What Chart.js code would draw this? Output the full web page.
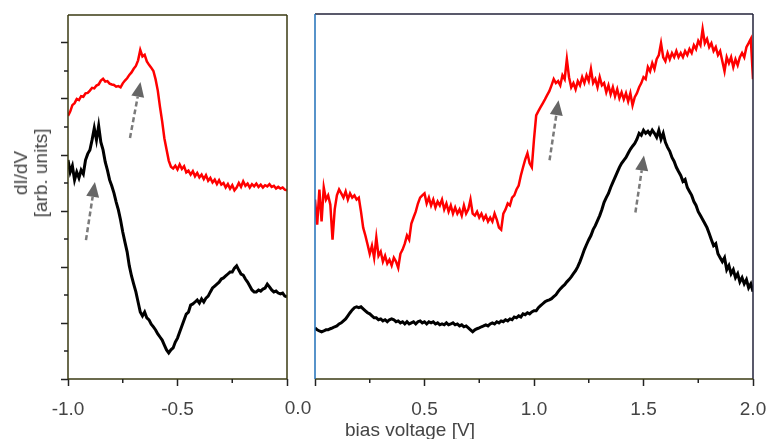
<!DOCTYPE html>
<html>
<head>
<meta charset="utf-8">
<script src="https://cdn.jsdelivr.net/npm/chart.js@4.4.1/dist/chart.umd.min.js"></script>
<style>
    html, body { margin: 0; padding: 0; background: #fff; }
    #wrap { position: relative; width: 769px; height: 439px; overflow: hidden; font-family: "Liberation Sans", Arial, sans-serif; color: #444; }
    .panel { position: absolute; top: 0; height: 439px; }
    #leftBox { left: 0; width: 300px; }
    #rightBox { left: 300px; width: 469px; }
    .lbl { position: absolute; white-space: nowrap; font-size: 19px; line-height: 20px; }
    #ytitle { left: 31px; top: 173px; transform: translate(-50%, -50%) rotate(-90deg); text-align: center; }
    #xtitle { left: 410px; top: 420px; transform: translateX(-50%); }
    #zero { left: 298px; top: 398px; transform: translateX(-50%); }
</style>
</head>
<body>
<div id="wrap">
    <div class="panel" id="leftBox"><canvas id="leftChart"></canvas></div>
    <div class="panel" id="rightBox"><canvas id="rightChart"></canvas></div>
    <div class="lbl" id="ytitle">dI/dV<br>[arb. units]</div>
    <div class="lbl" id="xtitle">bias voltage [V]</div>
    <div class="lbl" id="zero">0.0</div>
</div>
<script>
// Data (bias sweep in 0.01 V steps, dI/dV in arbitrary units)
const stepV = 0.01;
const leftStart = -1.0;
const rightStart = 0.0;

const leftRed = [
    9.40, 9.55, 9.78, 9.85, 10.00, 9.96, 10.10, 10.08, 10.20, 10.22,
    10.30, 10.40, 10.38, 10.48, 10.52, 10.66, 10.72, 10.62, 10.64, 10.55,
    10.52, 10.50, 10.44, 10.46, 10.42, 10.56, 10.66, 10.74, 10.86, 10.95,
    11.08, 11.18, 11.38, 11.75, 11.52, 11.58, 11.34, 11.22, 11.12, 11.00,
    10.70, 10.30, 9.72, 9.20, 8.60, 8.20, 7.80, 7.58, 7.52, 7.62,
    7.48, 7.66, 7.50, 7.60, 7.38, 7.44, 7.30, 7.42, 7.24, 7.36,
    7.20, 7.30, 7.14, 7.28, 7.08, 7.18, 7.02, 7.12, 6.96, 7.10,
    6.94, 7.00, 6.84, 6.96, 6.80, 6.92, 6.74, 6.84, 7.00, 6.86,
    7.06, 6.90, 6.98, 6.84, 6.96, 6.88, 6.98, 6.86, 6.94, 6.84,
    6.92, 6.88, 6.96, 6.86, 6.90, 6.80, 6.86, 6.80, 6.84, 6.76,
    6.74
];
const leftBlack = [
    7.82, 7.39, 7.61, 7.11, 7.39, 7.18, 7.46, 7.32, 7.82, 8.04,
    8.18, 8.54, 8.96, 8.54, 9.04, 8.46, 8.18, 7.75, 7.46, 7.11,
    6.89, 6.64, 6.32, 6.04, 5.68, 5.25, 4.89, 4.54, 4.04, 3.68,
    3.39, 3.11, 2.75, 2.39, 2.25, 2.39, 2.18, 2.11, 1.96, 1.86,
    1.75, 1.61, 1.50, 1.39, 1.21, 1.04, 0.93, 1.04, 1.11, 1.32,
    1.46, 1.68, 1.89, 2.11, 2.32, 2.39, 2.64, 2.68, 2.75, 2.82,
    2.71, 2.86, 2.75, 2.89, 2.96, 3.11, 3.25, 3.32, 3.39, 3.46,
    3.57, 3.61, 3.68, 3.75, 3.82, 3.82, 3.96, 4.04, 3.89, 3.75,
    3.71, 3.57, 3.46, 3.32, 3.18, 3.11, 3.11, 3.18, 3.14, 3.21,
    3.25, 3.39, 3.29, 3.18, 3.11, 3.14, 3.07, 3.04, 3.07, 2.96,
    2.93
];
const rightRed = [
    6.39, 5.50, 6.75, 5.61, 6.82, 6.39, 6.54, 6.21, 4.96, 6.04,
    6.54, 6.75, 6.61, 6.46, 6.68, 6.39, 6.61, 6.46, 6.54, 6.39,
    6.46, 5.96, 5.39, 5.11, 4.79, 4.46, 4.75, 4.32, 5.04, 4.39,
    4.54, 4.18, 4.39, 4.11, 4.25, 4.04, 4.32, 4.18, 3.96, 4.46,
    4.61, 4.82, 5.11, 4.96, 5.54, 5.75, 5.96, 6.25, 6.46, 6.54,
    6.61, 6.25, 6.46, 6.18, 6.39, 6.11, 6.32, 6.18, 6.39, 6.04,
    6.25, 5.96, 6.18, 5.89, 6.11, 5.89, 6.04, 5.82, 6.18, 5.89,
    6.04, 6.39, 5.89, 5.82, 5.96, 5.75, 5.89, 5.68, 5.82, 5.61,
    5.75, 5.61, 5.89, 5.68, 5.39, 5.32, 5.89, 6.04, 6.25, 6.18,
    6.46, 6.54, 6.75, 6.89, 7.25, 7.54, 7.82, 8.04, 7.68, 7.54,
    8.54, 9.39, 9.54, 9.68, 9.82, 9.96, 10.11, 10.25, 10.46, 10.68,
    10.54, 10.61, 10.46, 10.82, 10.68, 11.39, 10.75, 10.39, 10.54, 10.32,
    10.61, 10.46, 10.75, 10.54, 10.82, 10.61, 11.04, 10.54, 10.68, 10.39,
    10.75, 10.46, 10.54, 10.21, 10.46, 10.14, 10.39, 10.07, 10.32, 10.00,
    10.21, 9.96, 10.18, 9.89, 10.18, 9.75, 10.04, 10.18, 10.39, 10.54,
    10.75, 10.68, 11.11, 10.96, 11.25, 11.04, 11.39, 11.54, 11.96, 11.46,
    11.32, 11.61, 11.39, 11.61, 11.46, 11.68, 11.46, 11.61, 11.46, 11.68,
    11.54, 11.75, 11.61, 11.89, 11.75, 12.04, 11.89, 12.46, 11.96, 12.11,
    11.82, 11.96, 11.68, 11.82, 11.54, 11.68, 11.32, 10.96, 11.46, 11.25,
    11.46, 11.11, 11.39, 11.18, 11.46, 11.61, 11.46, 11.82, 11.96, 12.11,
    10.68
];
const rightBlack = [
    1.82, 1.75, 1.71, 1.68, 1.71, 1.75, 1.75, 1.79, 1.82, 1.86,
    1.89, 1.96, 2.00, 2.07, 2.14, 2.25, 2.36, 2.46, 2.54, 2.57,
    2.54, 2.57, 2.50, 2.43, 2.36, 2.32, 2.25, 2.18, 2.18, 2.11,
    2.14, 2.07, 2.11, 2.04, 2.11, 2.14, 2.11, 2.04, 2.07, 2.00,
    2.04, 1.96, 2.04, 1.96, 2.00, 2.04, 1.96, 2.04, 2.07, 2.00,
    2.04, 1.96, 2.04, 2.00, 2.04, 1.96, 2.00, 1.93, 1.96, 1.93,
    2.00, 1.93, 1.96, 2.00, 1.93, 1.96, 1.89, 1.93, 1.86, 1.89,
    1.82, 1.75, 1.68, 1.75, 1.79, 1.82, 1.86, 1.89, 1.93, 1.89,
    1.96, 2.00, 1.96, 2.04, 2.00, 2.07, 2.04, 2.11, 2.07, 2.14,
    2.11, 2.21, 2.18, 2.25, 2.21, 2.32, 2.29, 2.36, 2.32, 2.39,
    2.43, 2.43, 2.54, 2.61, 2.68, 2.75, 2.79, 2.82, 2.86, 2.93,
    3.00, 3.11, 3.21, 3.29, 3.36, 3.46, 3.54, 3.64, 3.75, 3.86,
    4.00, 4.18, 4.39, 4.61, 4.79, 4.96, 5.11, 5.32, 5.46, 5.64,
    5.82, 6.04, 6.29, 6.46, 6.61, 6.82, 7.00, 7.18, 7.36, 7.54,
    7.68, 7.79, 7.89, 8.04, 8.18, 8.29, 8.39, 8.54, 8.75, 8.68,
    8.86, 8.75, 8.82, 8.71, 8.86, 8.75, 8.61, 8.86, 8.54, 8.75,
    8.43, 8.25, 8.11, 7.89, 7.75, 7.54, 7.39, 7.25, 7.04, 7.11,
    6.82, 6.68, 6.54, 6.32, 6.18, 5.96, 5.82, 5.68, 5.54, 5.39,
    5.18, 4.96, 4.75, 4.82, 4.46, 4.32, 4.18, 4.32, 3.89, 4.04,
    3.75, 3.89, 3.61, 3.75, 3.46, 3.61, 3.39, 3.54, 3.25, 3.39,
    3.11
];

// Axis ticks and labels
const leftXTicks = [-1.0, -0.5, 0.0];
const leftXLabels = ['-1.0', '-0.5', ''];
const leftXMinor = [-0.75, -0.25];
const rightXTicks = [0.0, 0.5, 1.0, 1.5, 2.0];
const rightXLabels = ['', '0.5', '1.0', '1.5', '2.0'];
const rightXMinor = [0.25, 0.75, 1.25, 1.75];
const yTicks = [0, 2, 4, 6, 8, 10, 12];
const yMinor = [1, 3, 5, 7, 9, 11];

// Peak markers (tail -> tip, in data units)
const leftArrows = [
    { x0: -0.918, y0: 4.96, x1: -0.877, y1: 7.04 },
    { x0: -0.717, y0: 8.61, x1: -0.669, y1: 10.61 }
];
const rightArrows = [
    { x0: 1.071, y0: 7.79, x1: 1.112, y1: 9.93 },
    { x0: 1.463, y0: 5.93, x1: 1.502, y1: 7.96 }
];

const toPoints = (values, start) => values.map((y, i) => ({ x: start + i * stepV, y }));

const FONT = '"Liberation Sans", Arial, sans-serif';

// Plugins
const framePlugin = {
    id: 'frame',
    afterDraw(chart, args, opts) {
        const { ctx, chartArea: a } = chart;
        const side = (color, x0, y0, x1, y1) => {
            ctx.beginPath();
            ctx.strokeStyle = color;
            ctx.lineWidth = 1.5;
            ctx.moveTo(x0, y0);
            ctx.lineTo(x1, y1);
            ctx.stroke();
        };
        ctx.save();
        side(opts.top, a.left, a.top, a.right, a.top);
        side(opts.right, a.right, a.top, a.right, a.bottom);
        side(opts.bottom, a.left, a.bottom, a.right, a.bottom);
        side(opts.left, a.left, a.top, a.left, a.bottom);
        ctx.restore();
    }
};

const minorTicksPlugin = {
    id: 'minorTicks',
    afterDraw(chart, args, opts) {
        const { ctx, chartArea: a, scales } = chart;
        ctx.save();
        ctx.strokeStyle = '#222';
        ctx.lineWidth = 1.5;
        (opts.x || []).forEach(v => {
            const px = scales.x.getPixelForValue(v);
            ctx.beginPath();
            ctx.moveTo(px, a.bottom);
            ctx.lineTo(px, a.bottom + 4);
            ctx.stroke();
        });
        (opts.y || []).forEach(v => {
            const py = scales.y.getPixelForValue(v);
            ctx.beginPath();
            ctx.moveTo(a.left, py);
            ctx.lineTo(a.left - 4, py);
            ctx.stroke();
        });
        ctx.restore();
    }
};

const arrowsPlugin = {
    id: 'arrows',
    afterDatasetsDraw(chart, args, opts) {
        const { ctx, scales } = chart;
        ctx.save();
        (opts.items || []).forEach(ar => {
            const x0 = scales.x.getPixelForValue(ar.x0), y0 = scales.y.getPixelForValue(ar.y0);
            const x1 = scales.x.getPixelForValue(ar.x1), y1 = scales.y.getPixelForValue(ar.y1);
            const len = Math.hypot(x1 - x0, y1 - y0);
            const ux = (x1 - x0) / len, uy = (y1 - y0) / len;
            const head = 15, half = 6.5;
            const bx = x1 - ux * head, by = y1 - uy * head;
            ctx.beginPath();
            ctx.setLineDash([5, 3]);
            ctx.strokeStyle = '#7a7a7a';
            ctx.lineWidth = 2.5;
            ctx.moveTo(x0, y0);
            ctx.lineTo(bx, by);
            ctx.stroke();
            ctx.setLineDash([]);
            ctx.beginPath();
            ctx.fillStyle = '#666';
            ctx.moveTo(x1, y1);
            ctx.lineTo(bx - uy * half, by + ux * half);
            ctx.lineTo(bx + uy * half, by - ux * half);
            ctx.closePath();
            ctx.fill();
        });
        ctx.restore();
    }
};

function xScale(min, max, ticks, labels) {
    return {
        type: 'linear', min, max,
        afterBuildTicks: s => { s.ticks = ticks.map(v => ({ value: v })); },
        afterFit: s => { s.height = 60; s.paddingLeft = 0; s.paddingRight = 0; },
        ticks: {
            autoSkip: false, maxRotation: 0, padding: 12, color: '#444',
            font: { family: FONT, size: 19 },
            callback: (v, i) => labels[i]
        },
        grid: { drawOnChartArea: false, tickLength: 7, tickColor: '#222', tickWidth: 1.5 },
        border: { display: false }
    };
}

function lineSet(points, color, width) {
    return { data: points, borderColor: color, borderWidth: width, pointRadius: 0, tension: 0, fill: false };
}

// Left panel: negative bias
new Chart(document.getElementById('leftChart'), {
    type: 'line',
    data: {
        datasets: [
            lineSet(toPoints(leftBlack, leftStart), '#000', 3),
            lineSet(toPoints(leftRed, leftStart), '#ff0000', 2.5)
        ]
    },
    options: {
        responsive: true, maintainAspectRatio: false, animation: false,
        layout: { padding: { top: 15, right: 13, left: 0, bottom: 0 } },
        scales: {
            x: xScale(-1, 0, leftXTicks, leftXLabels),
            y: {
                min: 0, max: 13,
                afterBuildTicks: s => { s.ticks = yTicks.map(v => ({ value: v })); },
                afterFit: s => { s.width = 68; },
                ticks: { display: false },
                grid: { drawOnChartArea: false, tickLength: 7, tickColor: '#222', tickWidth: 1.5 },
                border: { display: false }
            }
        },
        plugins: {
            legend: { display: false }, tooltip: { enabled: false },
            frame: { top: '#3a3a12', right: '#3a3a12', bottom: '#3a3a12', left: '#3a3a12' },
            minorTicks: { x: leftXMinor, y: yMinor },
            arrows: { items: leftArrows }
        }
    },
    plugins: [framePlugin, minorTicksPlugin, arrowsPlugin]
});

// Right panel: positive bias
new Chart(document.getElementById('rightChart'), {
    type: 'line',
    data: {
        datasets: [
            lineSet(toPoints(rightBlack, rightStart), '#000', 3),
            lineSet(toPoints(rightRed, rightStart), '#ff0000', 2.5)
        ]
    },
    options: {
        responsive: true, maintainAspectRatio: false, animation: false,
        layout: { padding: { top: 14, right: 16, left: 15, bottom: 0 } },
        scales: {
            x: xScale(0, 2, rightXTicks, rightXLabels),
            y: { display: false, min: 0, max: 13 }
        },
        plugins: {
            legend: { display: false }, tooltip: { enabled: false },
            frame: { top: '#22223a', right: '#22223a', bottom: '#3a3a12', left: '#1f6fb8' },
            minorTicks: { x: rightXMinor },
            arrows: { items: rightArrows }
        }
    },
    plugins: [framePlugin, minorTicksPlugin, arrowsPlugin]
});
</script>
</body>
</html>
